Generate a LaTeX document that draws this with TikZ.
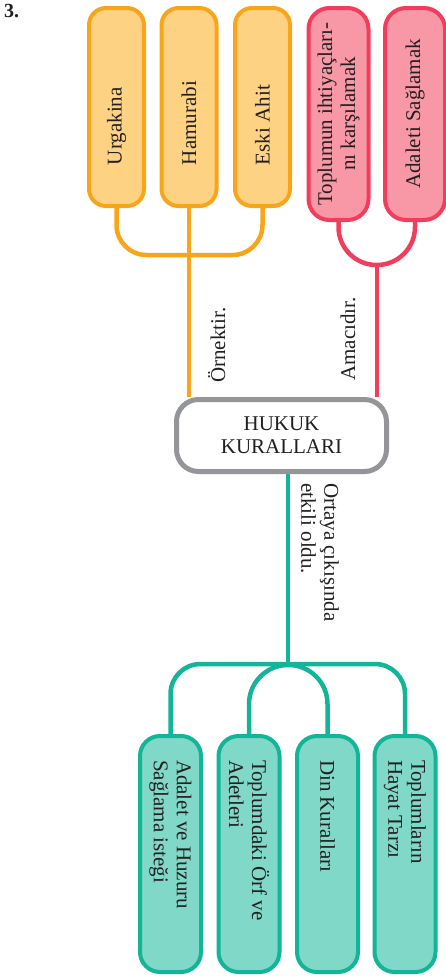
\documentclass[tikz,border=0pt]{standalone}
\usepackage{fontspec}
\setmainfont{Liberation Serif}
\usetikzlibrary{calc, backgrounds}
\definecolor{oline}{HTML}{F9A51B}
\definecolor{ofill}{HTML}{FDD283}
\definecolor{rline}{HTML}{F23D5C}
\definecolor{rfill}{HTML}{F898A7}
\definecolor{gline}{HTML}{12B597}
\definecolor{gfill}{HTML}{80D9C8}
\definecolor{hline}{HTML}{939598}
\definecolor{ink}{HTML}{231F20}
\tikzset{
  obox/.style={draw=oline, fill=ofill, line width=4pt, rounded corners=17pt, rotate=90,
    minimum height=55pt, inner ysep=0pt, inner xsep=41pt, text width=116pt, align=flush left},
  rbox/.style={draw=rline, fill=rfill, line width=4pt, rounded corners=21pt, rotate=90,
    minimum height=60pt, minimum width=212pt, inner sep=0pt, align=flush center},
  gbox/.style={draw=gline, fill=gfill, line width=4pt, rounded corners=20pt, rotate=-90,
    minimum height=61pt, inner ysep=0pt, inner xsep=24pt, text width=188pt, align=flush left},
  link/.style={draw=#1, line width=4.5pt},
}
\begin{document}
\begin{tikzpicture}[x=1pt, y=-1pt, text=ink, font=\fontsize{21}{23}\selectfont,
    lbl/.style={inner sep=0pt}]
  \useasboundingbox (0,0) rectangle (446,978);
  \node[anchor=base west, inner sep=0pt, font=\fontsize{20}{22}\selectfont\bfseries] (num) at (4,17) {3.};
  % examples
  \node[obox] (urg) at (116.5,107) {Urgakina};
  \node[obox] (ham) at (189,107) {Hamurabi};
  \node[obox] (eski) at (262.5,107) {Eski Ahit};
  % aims
  \node[rbox] (ihtiyac) at (338.5,114) {Toplumun ihtiyaçları-\\nı karşılamak};
  \node[rbox] (adalet) at (415,114) {Adaleti Sağlamak};
  % centre
  \node[draw=hline, fill=white, line width=5pt, rounded corners=22pt, minimum width=210pt,
    minimum height=72pt, align=flush center] (hukuk) at (281.5,435.5) {HUKUK\\KURALLARI};
  % sources
  \node[gbox] (huzur) at (170.5,854) {Adalet ve Huzuru\\Sağlama isteği};
  \node[gbox] (orf) at (249,854) {Toplumdaki Örf ve\\Adetleri};
  \node[gbox] (din) at (327.5,854) {Din Kuralları};
  \node[gbox] (hayat) at (405,854) {Toplumların\\Hayat Tarzı};
  % labels
  \node[lbl, rotate=90, anchor=base west] (ornek) at (225,383) {Örnektir.};
  \node[lbl, rotate=90, anchor=base west] (amac) at (355,381) {Amacıdır.};
  \node[lbl, rotate=-90, anchor=west, align=flush left] (etki) at (320,483) {Ortaya çıkışında\\etkili oldu.};
  % branches
  \begin{scope}[on background layer]
    \draw[link=oline, rounded corners=30pt] (urg.west) |- (eski.west |- 0,255) -- (eski.west);
    \draw[link=oline] (ham.west) -- (ham.west |- hukuk.north);
    \draw[link=rline, rounded corners=38pt] (ihtiyac.west) |- (adalet.west |- 0,265) -- (adalet.west);
    \coordinate (rjoin) at ($(ihtiyac.west |- 0,265)!0.5!(adalet.west |- 0,265)$);
    \draw[link=rline] (rjoin) -- (rjoin |- hukuk.north);
    \draw[link=gline, rounded corners=30pt] (huzur.west) |- (hayat.west |- 0,664) -- (hayat.west);
    \draw[link=gline, rounded corners=39pt] (orf.west) |- (din.west |- 0,665) -- (din.west);
    \coordinate (gjoin) at ($(huzur.west |- 0,664)!0.5!(hayat.west |- 0,664)$);
    \draw[link=gline] (gjoin |- hukuk.south) -- (gjoin);
  \end{scope}
\end{tikzpicture}
\end{document}
